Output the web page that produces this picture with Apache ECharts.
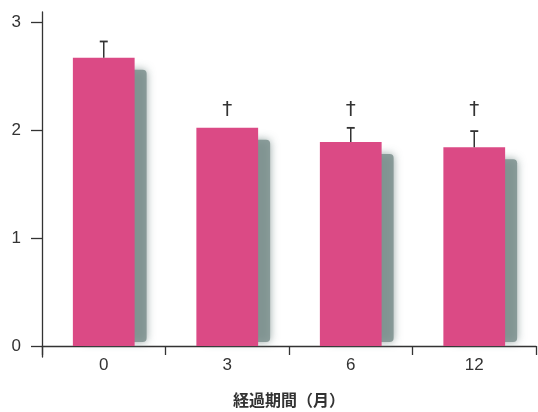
<!DOCTYPE html>
<html><head><meta charset="utf-8">
<script src="https://cdn.jsdelivr.net/npm/echarts@6/dist/echarts.min.js"></script>
<style>html,body{margin:0;padding:0;background:#fff}#c{width:538px;height:412px}</style>
</head><body><div id="c"></div>
<script>
const categories = ['0', '3', '6', '12'];
const means = [2.67, 2.02, 1.89, 1.84];
const errUpper = [2.82, null, 2.02, 1.99];
const marks = ['', '†', '†', '†'];
const markLevel = 2.19;
const yTickValues = [0, 1, 2, 3];
const xName = '経過期間（月）';

const chart = echarts.init(document.getElementById('c'));
const axisColor = '#333';
const shadowData = means.map((v, i) => [i, v]);
const errData = means.map((v, i) => [i, v, errUpper[i] == null ? v : errUpper[i]]);
const markData = marks.map((m, i) => [i, markLevel, m]);

chart.setOption({
  animation: false,
  backgroundColor: '#fff',
  grid: { left: 42, right: 2, top: 12, bottom: 55, outerBoundsMode: 'none', containLabel: false },
  xAxis: {
    type: 'category',
    data: categories,
    axisLine: { onZero: true, lineStyle: { color: axisColor, width: 1.3 } },
    axisTick: { show: true, length: 9, inside: false, lineStyle: { color: axisColor, width: 1.3 } },
    axisLabel: { color: axisColor, fontSize: 17, margin: 0, fontFamily: 'Liberation Sans, Arial, sans-serif' },
    name: xName,
    nameLocation: 'middle',
    nameGap: 35,
    nameTextStyle: { color: axisColor, fontSize: 16, fontWeight: 'bold', fontFamily: 'Noto Sans CJK JP' }
  },
  yAxis: {
    type: 'value',
    min: -0.102,
    max: 3.093,
    splitLine: { show: false },
    axisLine: { show: true, lineStyle: { color: axisColor, width: 1.3 } },
    axisTick: { show: true, length: 11, customValues: yTickValues, lineStyle: { color: axisColor, width: 1.3 } },
    axisLabel: { color: axisColor, fontSize: 17, margin: 21, customValues: yTickValues, fontFamily: 'Liberation Sans, Arial, sans-serif' }
  },
  series: [
    {
      type: 'custom',
      z: 1,
      clip: true,
      data: shadowData,
      renderItem: function (params, api) {
        const idx = api.value(0), v = api.value(1);
        const top = api.coord([idx, v]);
        const base = api.coord([idx, 0]);
        const bw = api.size([1, 0])[0] * 0.5;
        return {
          type: 'rect',
          shape: { x: top[0] - bw / 2 + 10, y: top[1] + 12, width: bw + 2, height: base[1] - top[1] - 16, r: 4 },
          style: { fill: 'rgba(125,145,142,0.85)', shadowBlur: 8, shadowColor: 'rgba(125,145,142,0.95)' }
        };
      }
    },
    {
      type: 'bar',
      z: 2,
      data: means,
      barWidth: '50%',
      itemStyle: { color: '#db4a85' }
    },
    {
      type: 'custom',
      z: 3,
      data: errData,
      renderItem: function (params, api) {
        const idx = api.value(0), v = api.value(1), u = api.value(2);
        if (u <= v) return null;
        const p1 = api.coord([idx, v]);
        const p2 = api.coord([idx, u]);
        return {
          type: 'group',
          children: [
            { type: 'line', shape: { x1: p1[0], y1: p1[1], x2: p2[0], y2: p2[1] }, style: { stroke: '#333', lineWidth: 1.5 } },
            { type: 'line', shape: { x1: p2[0] - 4, y1: p2[1], x2: p2[0] + 4, y2: p2[1] }, style: { stroke: '#333', lineWidth: 1.8 } }
          ]
        };
      }
    },
    {
      type: 'custom',
      z: 3,
      data: markData,
      renderItem: function (params, api) {
        const idx = api.value(0), v = api.value(1);
        const p = api.coord([idx, v]);
        return {
          type: 'text',
          style: { text: marks[params.dataIndex], x: p[0], y: p[1], align: 'center', verticalAlign: 'middle', fill: '#333', font: 'normal 20px DejaVu Sans' }
        };
      }
    }
  ]
});
</script>
</body></html>
